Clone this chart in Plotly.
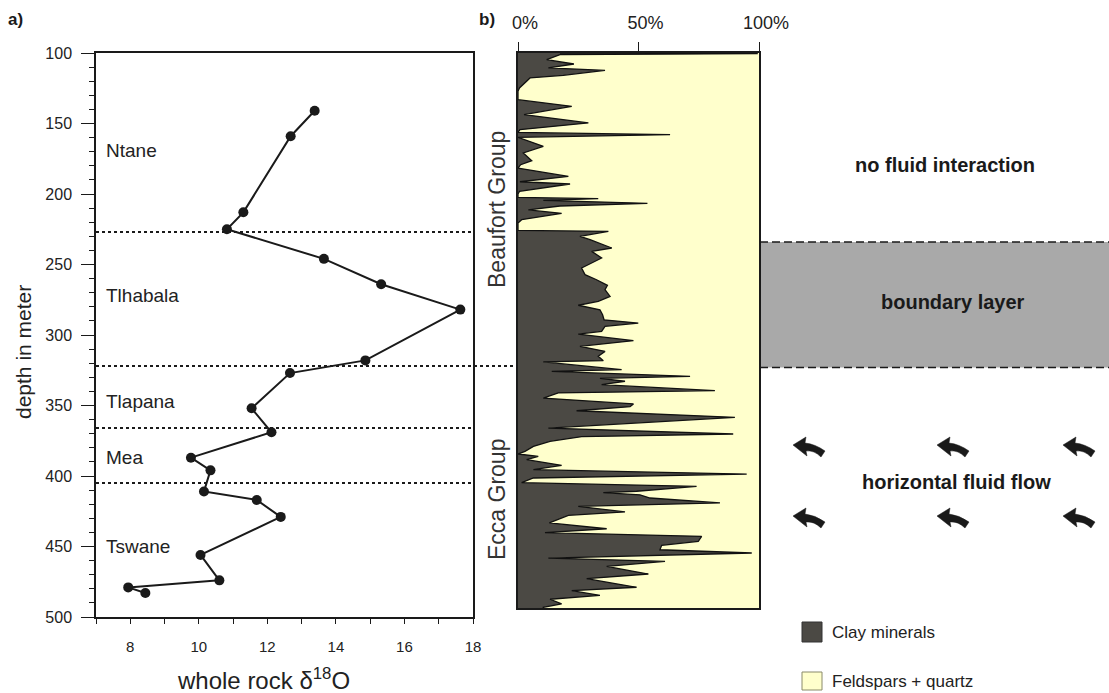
import plotly.graph_objects as go

# ---------------- data ----------------
# a) whole rock oxygen isotopes versus depth
d18o = [13.38, 12.68, 11.30, 10.82, 13.65, 15.32, 17.63, 14.86, 12.66, 11.54,
        12.12, 9.77, 10.34, 10.15, 11.69, 12.39, 10.05, 10.60, 7.94, 8.44]
d18o_depth = [141, 159, 213, 225, 246, 264, 282, 318, 327, 352,
              369, 387, 396, 411, 417, 429, 456, 474, 479, 483]

# formation boundaries (m) and formation names
formation_bounds = [227, 322, 366, 405]
formation_names = ["Ntane", "Tlhabala", "Tlapana", "Mea", "Tswane"]
formation_label_depth = [169, 272, 347, 387, 450]

# b) clay mineral content (%) versus depth (m)
clay_depth = [100.0, 100.5, 101.2, 104.7, 107.8, 110.6, 112.3, 115.8, 117.7, 121.3,
              124.8, 127.2, 133.1, 137.8, 143.7, 149.6, 154.4, 156.3, 157.9, 159.8,
              166.2, 170.9, 176.4, 179.2, 181.6, 187.5, 191.3, 192.9, 198.1, 200.0,
              202.4, 203.3, 204.5, 206.6, 208.5, 211.3, 213.7, 218.2, 220.6, 225.8,
              226.5, 230.0, 232.4, 238.3, 240.7, 245.4, 248.2, 252.5, 257.2, 260.8,
              264.8, 267.9, 272.6, 276.1, 278.9, 282.1, 285.6, 289.2, 291.5, 293.8,
              297.4, 299.3, 304.0, 308.0, 311.6, 315.1, 318.2, 319.1, 324.6, 325.8,
              329.3, 330.7, 332.8, 335.2, 339.5, 341.1, 344.7, 348.9, 350.8, 353.7,
              358.4, 366.0, 370.2, 372.1, 375.4, 379.0, 382.5, 384.4, 386.0, 388.4,
              392.4, 395.5, 398.6, 401.4, 404.7, 407.3, 410.8, 411.8, 413.3, 415.6,
              419.1, 421.5, 425.5, 427.9, 433.3, 437.4, 440.2, 442.8, 446.3, 449.1,
              452.3, 454.6, 458.2, 460.5, 464.1, 469.5, 472.8, 478.9, 481.3, 484.6,
              487.4, 490.6, 493.1, 493.6]
clay_pct = [17.4, 99.5, 17.4, 11.9, 23.2, 12.6, 36.1, 18.8, 5.0, 2.9,
            0.6, 0.0, 0.0, 22.3, 2.5, 29.2, 0.8, 0.0, 63.1, 0.0,
            10.5, 2.2, 5.7, 1.1, 0.0, 20.9, 0.8, 21.6, 0.6, 0.0,
            0.0, 33.3, 10.5, 53.7, 17.4, 4.3, 18.1, 1.5, 0.0, 0.0,
            37.5, 25.7, 29.9, 38.9, 30.6, 34.7, 31.3, 26.4, 27.8, 32.6,
            37.1, 36.1, 38.2, 33.3, 25.0, 34.0, 35.1, 35.7, 49.9, 36.1,
            34.7, 25.0, 47.9, 25.7, 36.1, 33.3, 35.4, 10.5, 43.0, 14.0,
            71.4, 34.0, 44.4, 34.7, 81.7, 16.7, 10.5, 47.9, 46.5, 24.3,
            90.0, 12.6, 89.3, 26.4, 13.3, 6.4, 2.9, 0.0, 8.4, 3.6,
            18.1, 6.4, 94.9, 6.4, 1.5, 74.1, 49.2, 35.4, 50.6, 54.8,
            83.8, 25.0, 44.4, 20.9, 13.0, 36.8, 11.2, 76.2, 74.8, 59.6,
            58.9, 97.0, 12.6, 61.0, 36.8, 54.1, 28.5, 49.2, 22.3, 34.0,
            13.3, 18.1, 10.5, 10.5]

column_top, column_bottom = 100.0, 493.6
boundary_layer = (234, 323)
pct_ticks = [0, 50, 100]
pct_labels = ["0%", "50%", "100%"]

# ---------------- style ----------------
W, H = 1109, 693
FONT = "Liberation Sans, Arial, Helvetica, sans-serif"
INK = "#1a1a1a"
CLAY = "#4b4944"
FELD = "#ffffcc"
GREY = "#a9a9a9"


def px(x):
    return x / W


def py(y):
    return 1 - y / H


fig = go.Figure()

# a) isotope profile
fig.add_trace(go.Scatter(
    x=d18o, y=d18o_depth, mode="lines+markers",
    line=dict(color=INK, width=2),
    marker=dict(color=INK, size=10, symbol="circle"),
    xaxis="x", yaxis="y", showlegend=False, hoverinfo="x+y"))

# b) mineralogy column: feldspar + quartz remainder, then clay on top
fig.add_trace(go.Scatter(
    x=[100, 100], y=[column_top, column_bottom], mode="lines",
    line=dict(width=0), fill="tozerox", fillcolor=FELD,
    xaxis="x2", yaxis="y2", showlegend=False, hoverinfo="skip"))
fig.add_trace(go.Scatter(
    x=clay_pct, y=clay_depth, mode="lines",
    line=dict(color="#111111", width=1.3), fill="tozerox", fillcolor=CLAY,
    xaxis="x2", yaxis="y2", showlegend=False))

axis_common = dict(showgrid=False, zeroline=False, showline=True, mirror=True,
                   linecolor=INK, tickcolor=INK, automargin=False,
                   tickfont=dict(family=FONT, size=15, color="#222"))

fig.update_layout(
    width=W, height=H,
    margin=dict(l=0, r=0, t=0, b=0, pad=0, autoexpand=False),
    paper_bgcolor="white", plot_bgcolor="white",
    showlegend=False,
    font=dict(family=FONT, color=INK),
    xaxis=dict(axis_common, domain=[px(96), px(473)], range=[7, 18],
               tick0=8, dtick=2, ticks="outside", ticklen=5, linewidth=1.5,
               ticklabelstandoff=10,
               minor=dict(dtick=1, ticks="outside", ticklen=5, tickcolor=INK),
               anchor="y"),
    yaxis=dict(axis_common, domain=[py(617), py(53)], range=[500, 100],
               tick0=100, dtick=50, ticks="outside", ticklen=13, linewidth=1.5,
               ticklabelstandoff=6,
               tickfont=dict(family=FONT, size=16, color="#222"),
               minor=dict(dtick=10, ticks="outside", ticklen=5, tickcolor=INK),
               anchor="x"),
    xaxis2=dict(axis_common, domain=[px(518), px(759)], range=[0, 100],
                side="top", tickvals=pct_ticks, ticktext=pct_labels,
                ticks="outside", ticklen=9, linewidth=2,
                tickfont=dict(family=FONT, size=18, color="#222"),
                ticklabelshift=7, ticklabelstandoff=6, anchor="y2"),
    yaxis2=dict(axis_common, domain=[py(608), py(53)],
                range=[column_bottom, column_top], showticklabels=False,
                ticks="", linewidth=2, anchor="x2"),
)

shapes = []
# formation boundaries in a); the Beaufort/Ecca contact continues to b)
for d in formation_bounds:
    x1 = px(518) if d == 322 else px(473)
    shapes.append(dict(type="line", xref="paper", yref="y", x0=px(96), x1=x1,
                       y0=d, y1=d, line=dict(color=INK, width=2, dash="dot")))

# boundary layer band
shapes.append(dict(type="rect", xref="paper", yref="y2", x0=px(760), x1=1,
                   y0=boundary_layer[0], y1=boundary_layer[1],
                   fillcolor=GREY, line=dict(width=0), layer="below"))
for d in boundary_layer:
    shapes.append(dict(type="line", xref="paper", yref="y2", x0=px(760), x1=1,
                       y0=d, y1=d, line=dict(color=INK, width=1.5, dash="8px,4px")))


# curved flow arrows pointing left
def arrow_path(cx, cy):
    def p(dx, dy):
        return f"{px(cx + dx):.5f},{py(cy + dy):.5f}"
    return (f"M {p(-16, -2)} L {p(-3, -10)} L {p(-4, -4)} "
            f"Q {p(6, -3)} {p(16, 4)} L {p(12, 10)} "
            f"Q {p(5, 3)} {p(-3, 4)} L {p(-2, 9)} Z")


for cy in (447, 518):
    for cx in (809, 953, 1079):
        shapes.append(dict(type="path", xref="paper", yref="paper",
                           path=arrow_path(cx, cy), fillcolor=INK,
                           line=dict(color=INK, width=0.5)))

# legend swatches
shapes.append(dict(type="rect", xref="paper", yref="paper",
                   x0=px(802), x1=px(822), y0=py(642), y1=py(622),
                   fillcolor=CLAY, line=dict(color="#333", width=1)))
shapes.append(dict(type="rect", xref="paper", yref="paper",
                   x0=px(802), x1=px(822), y0=py(690), y1=py(672),
                   fillcolor=FELD, line=dict(color="#8a8a6a", width=1)))
fig.update_layout(shapes=shapes)

ann = []
for name, d in zip(formation_names, formation_label_depth):
    ann.append(dict(x=7.23, y=d, xref="x", yref="y", text=name, showarrow=False,
                    xanchor="left", yanchor="middle",
                    font=dict(family=FONT, size=19, color="#222")))

ann += [
    dict(x=px(15), y=py(20), text="<b>a)</b>", font=dict(size=17)),
    dict(x=px(487), y=py(20), text="<b>b)</b>", font=dict(size=17)),
    dict(x=px(23), y=py(352), text="depth in meter", textangle=-90,
         font=dict(size=21, color="#222")),
    dict(x=px(263), y=py(679), text="whole rock \u03b4<sup>18</sup>O",
         font=dict(size=24, color="#222")),
    dict(x=px(497), y=py(210), text="Beaufort Group", textangle=-90,
         font=dict(size=23, color="#333")),
    dict(x=px(497), y=py(500), text="Ecca Group", textangle=-90,
         font=dict(size=23, color="#333")),
    dict(x=px(945), y=py(165), text="<b>no fluid interaction</b>",
         font=dict(size=20)),
    dict(x=px(953), y=py(302), text="<b>boundary layer</b>", font=dict(size=20)),
    dict(x=px(956), y=py(482), text="<b>horizontal fluid flow</b>",
         font=dict(size=20)),
    dict(x=px(830), y=py(632), text="Clay minerals", xanchor="left",
         font=dict(size=17, color="#222")),
    dict(x=px(830), y=py(681), text="Feldspars + quartz", xanchor="left",
         font=dict(size=17, color="#222")),
]
for a in ann:
    a.setdefault("xref", "paper")
    a.setdefault("yref", "paper")
    a.setdefault("showarrow", False)
    a.setdefault("xanchor", "center")
    a.setdefault("yanchor", "middle")
    a["font"] = dict(dict(family=FONT, color=INK), **a.get("font", {}))
fig.update_layout(annotations=ann)

fig.write_html("out.html")
